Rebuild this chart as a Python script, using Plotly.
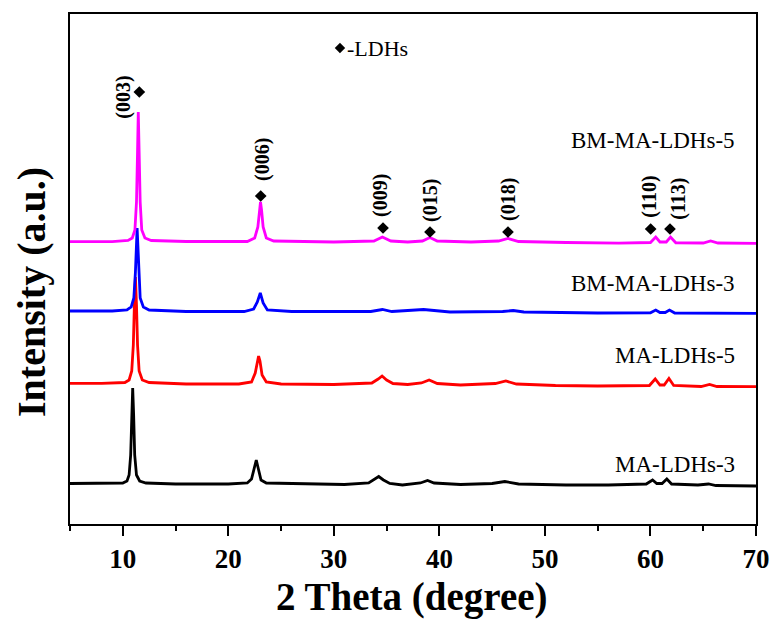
import plotly.graph_objects as go

# ---------------- data (2θ in degrees, intensity above each pattern's baseline, a.u.) -------------
samples = ["MA-LDHs-3", "MA-LDHs-5", "BM-MA-LDHs-3", "BM-MA-LDHs-5"]
colors = ["#000000", "#ff0000", "#0000ff", "#ff00ff"]
offsets = [39, 139, 212, 282]

x_ma3 = [5, 8, 10.0, 10.4, 10.6, 10.75, 10.85, 10.94, 11.03, 11.13, 11.3, 11.6, 12.2, 15, 20,
         21.8, 22.2, 22.45, 22.65, 22.85, 23.1, 23.6, 27, 31, 33.3, 33.9, 34.25, 34.7, 35.3, 36.5,
         38.2, 38.88, 39.5, 42, 45, 46.2, 47.5, 52, 56, 59.6, 60.2, 60.6, 61.1, 61.55, 62, 64.5,
         65.5, 66.2, 70]
y_ma3 = [1.5, 1.5, 2, 4, 10, 30, 70, 97, 70, 30, 10, 4, 2, 1, 1,
         2, 6, 18, 25, 16, 5, 2, 1, 0.5, 2, 6, 8.5, 5, 1.5, 0,
         2, 4.5, 2, 0.5, 1.5, 3.5, 1, 0, 0, 1, 5, 1.5, 1.5, 6, 1, 0,
         1, -0.5, -1]

x_ma5 = [5, 8, 10.2, 10.6, 10.85, 11.0, 11.1, 11.2, 11.3, 11.4, 11.55, 11.85, 12.5, 16, 21,
         22.2, 22.55, 22.75, 22.87, 23.0, 23.2, 23.6, 25, 30, 33.6, 34.2, 34.57, 35.0, 35.6, 37,
         38.3, 39.03, 39.8, 42, 45.3, 46.3, 47.3, 51, 55, 59.9, 60.45, 60.9, 61.3, 61.75, 62.2,
         64.8, 65.6, 66.3, 70]
y_ma5 = [1.7, 1.7, 2.5, 5, 14, 40, 80, 108, 80, 40, 14, 5, 2.5, 1, 1,
         3, 12, 24, 29, 24, 10, 3, 1, 0.5, 2, 6, 9, 5, 1.5, 0.5,
         2, 5, 1.5, 0, 1.5, 4, 1, -0.5, -1, -0.5, 6, 0, 0, 6.5, -0.5,
         -1.5, 0.5, -1.5, -1.7]

x_bm3 = [5, 9, 10.4, 10.8, 11.05, 11.2, 11.36, 11.5, 11.65, 11.95, 12.5, 16, 21.5,
         22.4, 22.75, 23.03, 23.3, 23.7, 26, 33.5, 34.6, 35.5, 37, 38.5, 39.5, 41, 46, 47, 48,
         55, 60, 60.5, 60.9, 61.4, 61.8, 62.3, 70]
y_bm3 = [1, 1, 2, 5, 14, 40, 84, 40, 14, 5, 2, 0.5, 0.5,
         3, 10, 19, 9, 2, 0.5, 0.5, 2.5, 0.5, 1.5, 2.5, 1.5, 0, 0.5, 1.5, 0,
         -1, -0.8, 2, -0.5, -0.5, 2, -1, -1.3]

x_bm5 = [5, 9, 10.5, 10.9, 11.15, 11.3, 11.4, 11.47, 11.55, 11.65, 11.8, 12.1, 12.7, 16, 21.8,
         22.5, 22.8, 22.95, 23.05, 23.15, 23.3, 23.6, 24.3, 30, 33.8, 34.6, 35.4, 37, 38.4, 39.1,
         39.8, 43, 45.6, 46.5, 47.5, 52, 57, 60, 60.5, 60.9, 61.5, 61.9, 62.4, 65, 65.7, 66.4, 70]
y_bm5 = [0.3, 0.3, 1.5, 4, 12, 40, 90, 130, 90, 40, 12, 4, 1.5, 0.5, 0.5,
         4, 15, 32, 40, 32, 15, 4, 1, 0, 1, 5, 1, 0, 1, 4.5,
         1, 0, 1, 3.5, 0.5, -0.5, -1.2, -0.5, 5, 0, 0, 5, -0.8, -1, 1, -1, -1.3]

series_x = [x_ma3, x_ma5, x_bm3, x_bm5]
series_y = [y_ma3, y_ma5, y_bm3, y_bm5]

# LDH reflections marked on the top pattern
hkl_labels = ["(003)", "(006)", "(009)", "(015)", "(018)", "(110)", "(113)"]
hkl_marker_x = [11.57, 23.07, 34.66, 39.11, 46.5, 60.02, 61.85]
hkl_label_x = [9.99, 23.19, 34.37, 39.11, 46.5, 59.83, 62.58]

x_ticks = [10, 20, 30, 40, 50, 60, 70]

# ---------------- layout constants ----------------
marker_y = [432, 328, 296, 292, 292, 295, 295]
label_y = [427, 365, 329, 324, 325, 327, 325]
sample_label_y = [59.5, 168.5, 240.5, 384]

SERIF = "Liberation Serif, Times New Roman, serif"

fig = go.Figure()
for xs, ys, off, c, name in zip(series_x, series_y, offsets, colors, samples):
    fig.add_trace(go.Scatter(x=xs, y=[v + off for v in ys], mode="lines",
                             line=dict(color=c, width=2.8), name=name, showlegend=False))

fig.add_trace(go.Scatter(x=hkl_marker_x, y=marker_y, mode="markers",
                         marker=dict(symbol="diamond", size=9, color="black"),
                         showlegend=False))
# legend symbol
fig.add_trace(go.Scatter(x=[30.58], y=[476], mode="markers",
                         marker=dict(symbol="diamond", size=8, color="black"),
                         showlegend=False))

annotations = []
for t, lx, ly in zip(hkl_labels, hkl_label_x, label_y):
    annotations.append(dict(x=lx, y=ly, xref="x", yref="y", text="<b>" + t + "</b>",
                            textangle=-90, showarrow=False,
                            font=dict(family=SERIF, size=20, color="black")))
for name, sy in zip(samples, sample_label_y):
    annotations.append(dict(x=68.2, y=sy, xref="x", yref="y", text=name, xanchor="right",
                            yanchor="middle", showarrow=False,
                            font=dict(family=SERIF, size=23, color="black")))
annotations.append(dict(x=31.06, y=476, xref="x", yref="y", text="-LDHs", xanchor="left",
                        yanchor="middle", showarrow=False,
                        font=dict(family=SERIF, size=22, color="black")))
annotations.append(dict(x=0.4985, y=-0.143, xref="paper", yref="paper",
                        text="<b>2 Theta (degree)</b>", showarrow=False,
                        xanchor="center", yanchor="middle",
                        font=dict(family=SERIF, size=39, color="black")))
annotations.append(dict(x=-0.0554, y=0.455, xref="paper", yref="paper",
                        text="<b>Intensity (a.u.)</b>", showarrow=False, textangle=-90,
                        xanchor="center", yanchor="middle",
                        font=dict(family=SERIF, size=40, color="black")))

fig.update_layout(
    width=774, height=619,
    margin=dict(l=70, r=18, t=14, b=95, autoexpand=False),
    paper_bgcolor="white", plot_bgcolor="white",
    annotations=annotations,
    xaxis=dict(range=[5, 70], tickmode="array", tickvals=x_ticks,
               ticktext=["<b>%d</b>" % v for v in x_ticks],
               ticks="outside", ticklen=10, tickwidth=2, tickcolor="black",
               minor=dict(ticks="outside", ticklen=5, tickwidth=2, tickcolor="black",
                          tick0=5, dtick=5),
               showline=True, linewidth=2, linecolor="black", mirror=True,
               showgrid=False, zeroline=False, automargin=False,
               tickfont=dict(family=SERIF, size=27, color="black")),
    yaxis=dict(range=[0, 510], showticklabels=False, ticks="",
               showline=True, linewidth=2, linecolor="black", mirror=True,
               showgrid=False, zeroline=False, automargin=False),
)

fig.write_html("out.html", config={"displayModeBar": False},
               post_script="document.body.style.margin='0';")
